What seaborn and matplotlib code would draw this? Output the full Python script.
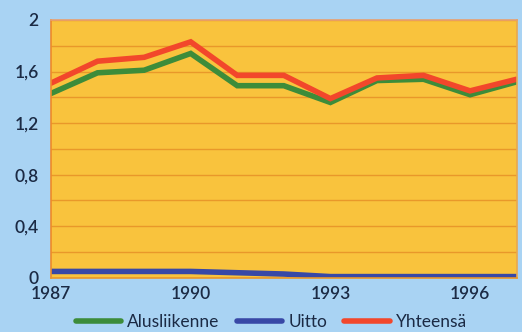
import matplotlib
matplotlib.use("Agg")
import matplotlib.pyplot as plt
import seaborn as sns
import pandas as pd
from matplotlib.ticker import FixedLocator, MultipleLocator

years = [1987, 1988, 1989, 1990, 1991, 1992, 1993, 1994, 1995, 1996, 1997]
alusliikenne = [1.43, 1.59, 1.61, 1.74, 1.49, 1.49, 1.36, 1.53, 1.54, 1.42, 1.52]
uitto = [0.05, 0.05, 0.05, 0.05, 0.04, 0.03, 0.01, 0.01, 0.01, 0.01, 0.01]
yhteensa = [1.51, 1.68, 1.71, 1.83, 1.57, 1.57, 1.39, 1.55, 1.57, 1.45, 1.54]

series_names = ["Alusliikenne", "Uitto", "Yhteensä"]
y_ticks = [0, 0.4, 0.8, 1.2, 1.6, 2.0]
y_tick_labels = ["0", "0,4", "0,8", "1,2", "1,6", "2"]
x_ticks = [1987, 1990, 1993, 1996]

df = pd.DataFrame({
    "vuosi": years * 3,
    "arvo": alusliikenne + uitto + yhteensa,
    "sarja": [series_names[0]] * len(years)
             + [series_names[1]] * len(years)
             + [series_names[2]] * len(years),
})

bg = "#a9d3f3"
text_color = "#1b2a44"
palette = {"Alusliikenne": "#3d8c3a", "Uitto": "#3848a6", "Yhteensä": "#f2472b"}

sns.set_style("white")
plt.rcParams["font.family"] = ["Lato", "DejaVu Sans"]

fig = plt.figure(figsize=(5.22, 3.32), dpi=100, facecolor=bg)
ax = fig.add_axes([0.0977, 0.163, 0.892, 0.777])
ax.set_facecolor("#f9c33d")

sns.lineplot(data=df, x="vuosi", y="arvo", hue="sarja", palette=palette,
             hue_order=series_names, linewidth=4.0, ax=ax, legend=False,
             solid_joinstyle="miter")

ax.set_xlim(1987, 1997)
ax.set_ylim(0, 2)
ax.yaxis.set_major_locator(FixedLocator(y_ticks))
ax.set_yticklabels(y_tick_labels)
ax.yaxis.set_minor_locator(MultipleLocator(0.2))
ax.set_xticks(x_ticks)
ax.set_xticklabels([str(x) for x in x_ticks])

ax.grid(True, which="both", axis="y", color="#e9982a", linewidth=1.0)
ax.set_axisbelow(True)
ax.tick_params(axis="both", which="both", length=0, labelsize=12.5,
               colors=text_color)
for lbl in ax.get_xticklabels() + ax.get_yticklabels():
    lbl.set_fontweight("semibold")
ax.tick_params(axis="y", pad=9)
ax.tick_params(axis="x", pad=6)
ax.set_xlabel("")
ax.set_ylabel("")

for side, color in [("left", "#ee8a2a"), ("top", "#e8a070"),
                    ("right", "#e7a850"), ("bottom", "#e9982a")]:
    ax.spines[side].set_visible(True)
    ax.spines[side].set_color(color)
    ax.spines[side].set_linewidth(1.2)

handles = [plt.Line2D([], [], color=palette[n], linewidth=4.0) for n in series_names]
fig.legend(handles, series_names, loc="lower center", bbox_to_anchor=(0.52, -0.04),
           ncol=3, frameon=False, fontsize=12.5, handlelength=2.6,
           handletextpad=0.35, columnspacing=1.0, labelcolor=text_color)

fig.savefig("out.png", dpi=100, facecolor=bg)
